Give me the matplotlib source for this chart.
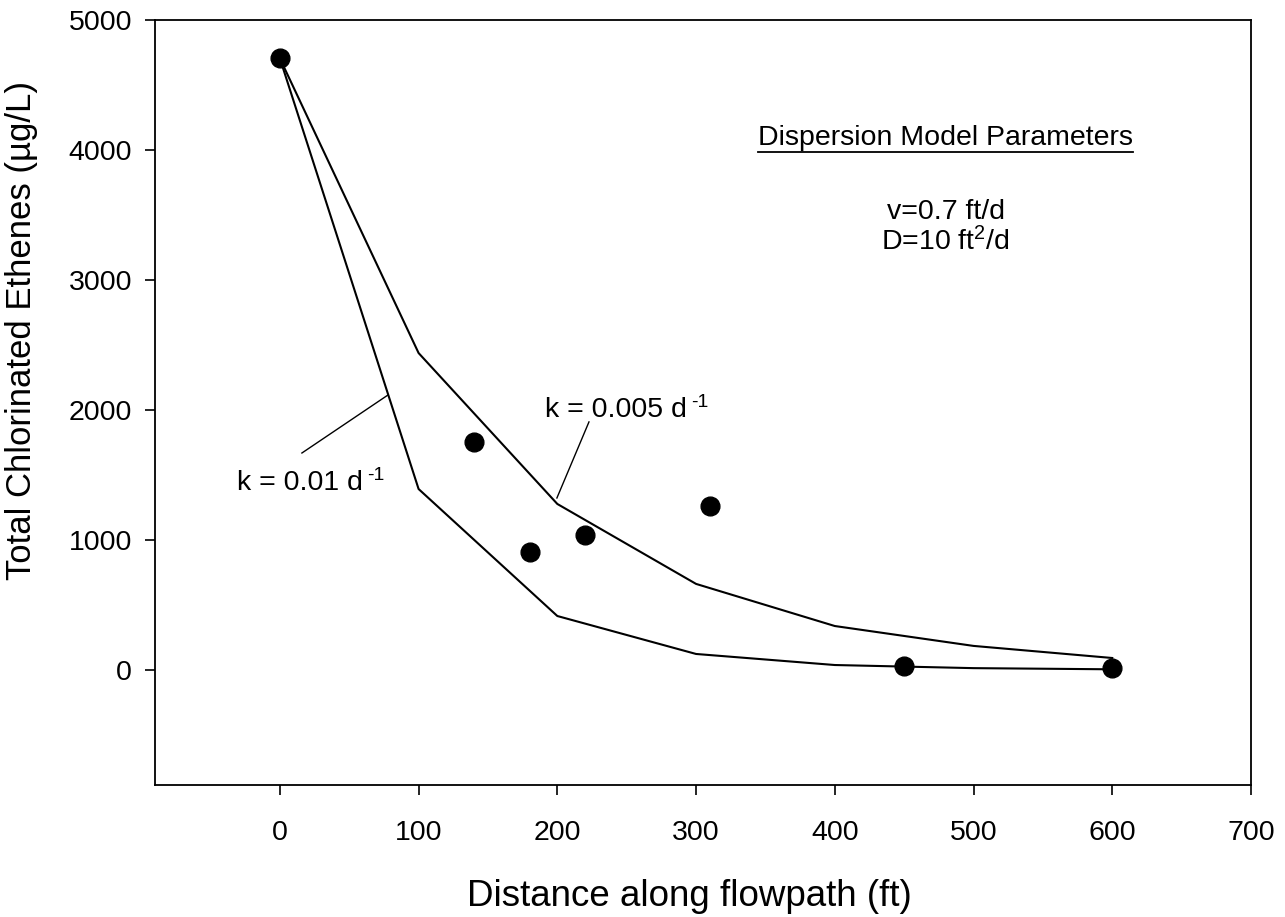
import matplotlib
matplotlib.use("Agg")
import matplotlib.pyplot as plt
from matplotlib.lines import Line2D

plt.rcParams['font.family'] = ['Liberation Sans', 'DejaVu Sans']
plt.rcParams['mathtext.fontset'] = 'custom'
plt.rcParams['mathtext.rm'] = 'Liberation Sans'
plt.rcParams['mathtext.it'] = 'Liberation Sans'

# measured concentrations
obs_x = [0, 140, 180, 220, 310, 450, 600]
obs_y = [4705, 1752, 908, 1038, 1262, 31, 12]

# dispersion model curves
model_x = [0, 100, 200, 300, 400, 500, 600]
k005_y = [4705, 2438, 1277, 662, 338, 185, 92]
k010_y = [4705, 1392, 415, 123, 38, 14, 5]

x_ticks = [0, 100, 200, 300, 400, 500, 600, 700]
y_ticks = [0, 1000, 2000, 3000, 4000, 5000]

fig = plt.figure(figsize=(12.85, 9.17), dpi=100)
ax = fig.add_axes([155 / 1285, 1 - 785 / 917, 1096 / 1285, 765 / 917])

ax.plot(model_x, k005_y, color='black', lw=1.5, zorder=2)
ax.plot(model_x, k010_y, color='black', lw=1.5, zorder=2)
ax.plot(obs_x, obs_y, 'o', color='black', ms=13.5, zorder=3)

ax.set_xlim(-90, 700)
ax.set_ylim(-885, 5000)
ax.set_xticks(x_ticks)
ax.set_yticks(y_ticks)
ax.tick_params(direction='out', length=7.5, width=1.2, labelsize=20.5,
               top=False, right=False)
ax.tick_params(axis='x', pad=18)
ax.tick_params(axis='y', pad=9)
for s in ax.spines.values():
    s.set_linewidth(1.3)

fig.text(22 / 1285, 1 - 330 / 917, 'Total Chlorinated Ethenes (µg/L)',
         rotation=90, ha='center', va='center', fontsize=25)
fig.text(689 / 1285, 1 - 896 / 917, 'Distance along flowpath (ft)',
         ha='center', va='center', fontsize=26.5)

# curve labels with leader lines
ax.plot([15.9, 77.9], [1669, 2115], color='black', lw=1.0)
ax.plot([199.7, 222.8], [1323, 1908], color='black', lw=1.0)

t1 = ax.text(-31, 1385, 'k = 0.01 d', fontsize=20.5, ha='left', va='baseline')
ax.annotate('-1', xy=(1, 1), xycoords=t1, xytext=(3, -10),
            textcoords='offset points', fontsize=14, ha='left', va='bottom')
t2 = ax.text(191, 1946, 'k = 0.005 d', fontsize=20.5, ha='left', va='baseline')
ax.annotate('-1', xy=(1, 1), xycoords=t2, xytext=(3, -10),
            textcoords='offset points', fontsize=14, ha='left', va='bottom')

# parameter box text
hdr = ax.text(480, 4038, 'Dispersion Model Parameters', fontsize=20.5,
              ha='center', va='baseline')
ax.text(480, 3470, 'v=0.7 ft/d', fontsize=20.5, ha='center', va='baseline')
ax.text(480, 3225, r'D=10 ft$^2$/d', fontsize=20.5, ha='center', va='baseline')

fig.canvas.draw()
bb = hdr.get_window_extent().transformed(fig.transFigure.inverted())
uy = 1 - 152 / 917
fig.add_artist(Line2D([bb.x0, bb.x1], [uy, uy], color='black', lw=1.3,
                      transform=fig.transFigure))

fig.savefig('out.png', dpi=100)
